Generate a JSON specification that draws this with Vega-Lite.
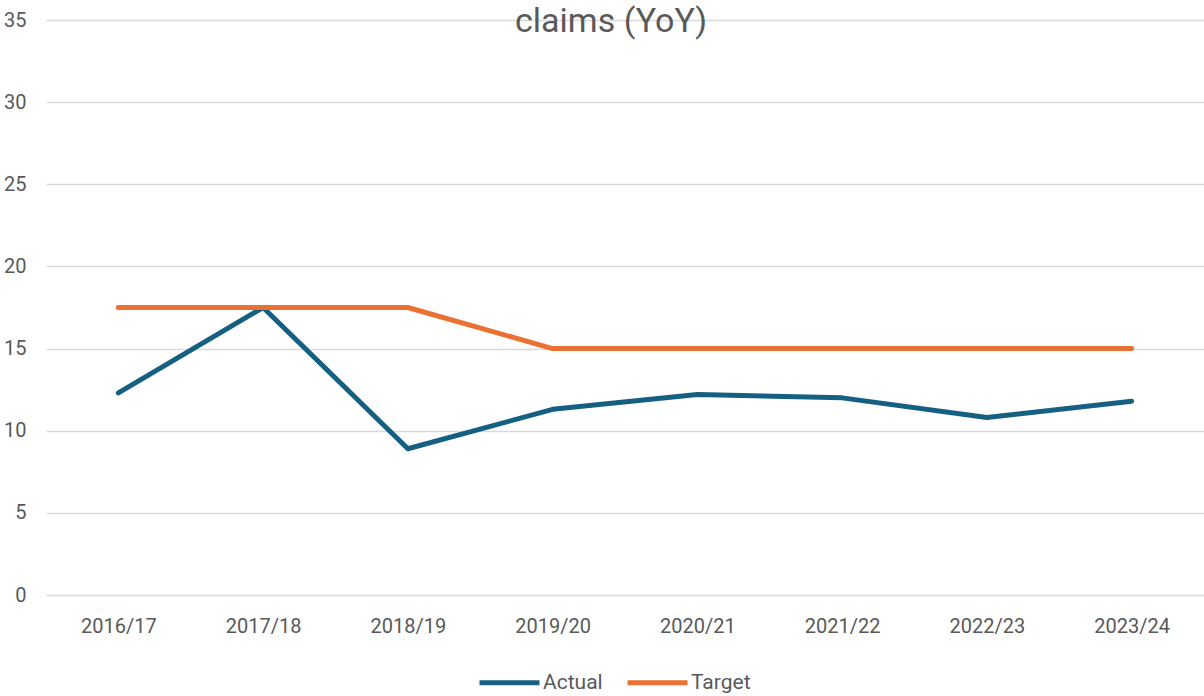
{
  "$schema": "https://vega.github.io/schema/vega-lite/v6.json",
  "width": 1158,
  "height": 575,
  "autosize": {"type": "none"},
  "padding": {"left": 46, "top": 20, "right": 0, "bottom": 101},
  "background": "white",
  "title": {
    "text": "claims (YoY)",
    "font": "Roboto",
    "fontSize": 34,
    "fontWeight": "normal",
    "color": "#595959",
    "anchor": "middle",
    "frame": "group",
    "baseline": "alphabetic",
    "offset": 0,
    "dy": 56,
    "dx": -14
  },
  "data": {
    "values": [
      {"year": "2016/17", "series": "Actual", "value": 12.3},
      {"year": "2017/18", "series": "Actual", "value": 17.5},
      {"year": "2018/19", "series": "Actual", "value": 8.9},
      {"year": "2019/20", "series": "Actual", "value": 11.3},
      {"year": "2020/21", "series": "Actual", "value": 12.2},
      {"year": "2021/22", "series": "Actual", "value": 12.0},
      {"year": "2022/23", "series": "Actual", "value": 10.8},
      {"year": "2023/24", "series": "Actual", "value": 11.8},
      {"year": "2016/17", "series": "Target", "value": 17.5},
      {"year": "2017/18", "series": "Target", "value": 17.5},
      {"year": "2018/19", "series": "Target", "value": 17.5},
      {"year": "2019/20", "series": "Target", "value": 15},
      {"year": "2020/21", "series": "Target", "value": 15},
      {"year": "2021/22", "series": "Target", "value": 15},
      {"year": "2022/23", "series": "Target", "value": 15},
      {"year": "2023/24", "series": "Target", "value": 15}
    ]
  },
  "mark": {"type": "line", "strokeWidth": 5, "strokeCap": "round", "strokeJoin": "round"},
  "encoding": {
    "x": {
      "field": "year",
      "type": "ordinal",
      "sort": null,
      "scale": {"type": "point", "padding": 0.5},
      "axis": {
        "title": null,
        "labelAngle": 0,
        "labelFont": "Roboto",
        "labelFontSize": 20,
        "labelColor": "#595959",
        "labelPadding": 21,
        "ticks": false,
        "domain": false,
        "grid": false
      }
    },
    "y": {
      "field": "value",
      "type": "quantitative",
      "scale": {"domain": [0, 35], "nice": false},
      "axis": {
        "title": null,
        "values": [0, 5, 10, 15, 20, 25, 30, 35],
        "labelFont": "Roboto",
        "labelFontSize": 20,
        "labelColor": "#595959",
        "labelPadding": 20,
        "ticks": false,
        "domain": false,
        "grid": true,
        "gridColor": "#d9d9d9",
        "gridWidth": 1.5
      }
    },
    "color": {
      "field": "series",
      "type": "nominal",
      "scale": {"domain": ["Actual", "Target"], "range": ["#156082", "#E97132"]},
      "legend": {
        "title": null,
        "orient": "none",
        "direction": "horizontal",
        "legendX": 431,
        "legendY": 630,
        "symbolType": "stroke",
        "symbolSize": 3600,
        "symbolStrokeWidth": 5,
        "labelFont": "Roboto",
        "labelFontSize": 21,
        "labelColor": "#595959",
        "labelOffset": 1,
        "columnPadding": 14
      }
    }
  },
  "config": {"view": {"stroke": null}}
}
